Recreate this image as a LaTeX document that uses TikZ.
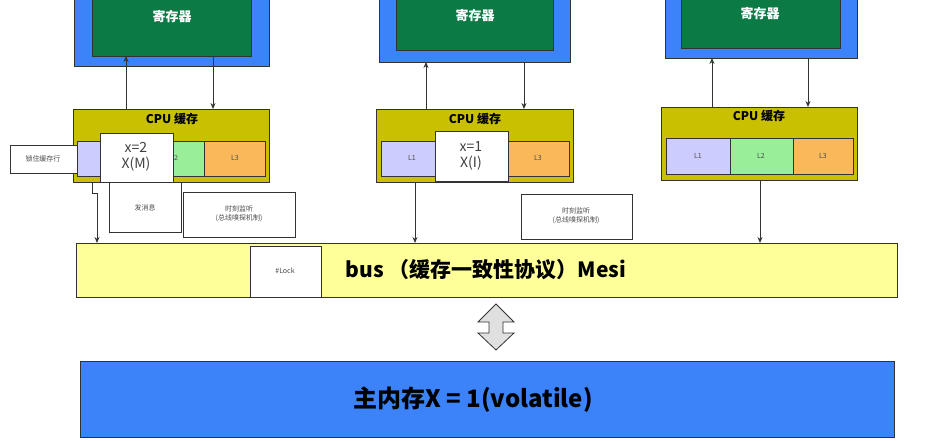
\documentclass[tikz,border=0pt]{standalone}
\usepackage{fontspec}
\usetikzlibrary{arrows.meta}
\setmainfont{Noto Sans CJK SC}
\definecolor{cblue}{HTML}{3C82F8}
\definecolor{cgreen}{HTML}{0B7A45}
\definecolor{colive}{HTML}{C8C000}
\definecolor{cl1}{HTML}{CCCCFF}
\definecolor{cl2}{HTML}{99EE99}
\definecolor{cl3}{HTML}{F9B95A}
\definecolor{cbus}{HTML}{FFFF99}
\definecolor{cline}{HTML}{333333}
\begin{document}
\begin{tikzpicture}[x=1pt,y=-1pt,
  box/.style={draw=cline,line width=0.8pt,inner sep=0pt},
  arr/.style={draw=cline,line width=0.8pt,-{Stealth[length=6pt,width=5pt]}},
  small/.style={font=\fontsize{7}{9}\selectfont,text=black!70},
  reg/.style={font=\bfseries\fontsize{13}{15}\selectfont,text=white},
  ctitle/.style={font=\bfseries\fontsize{12}{14}\selectfont},
  xv/.style={font=\fontsize{14}{16}\selectfont,text=black!75,align=center},
  big/.style={font=\bfseries\fontsize{21}{24}\selectfont}]
\useasboundingbox (0,0) rectangle (930,441);
% CPU1
\path[box,fill=cblue] (74,-2) rectangle (269,66);
\path[box,fill=cgreen] (92,-2) rectangle (251,56);
\node[reg] (r1) at (172,17) {寄存器};
\path[box,fill=colive] (73,109) rectangle (269,182);
\node[ctitle] (c1) at (172,119) {CPU 缓存};
\path[box,fill=cl1] (77,141) rectangle (100,176);
\path[box,fill=cl2] (173,141) rectangle (204,176);
\node[small] at (176,158) {2};
\path[box,fill=cl3] (204,141) rectangle (265,176);
\node[small] at (235,158) {L3};
\path[box,fill=white] (100,133) rectangle (173,182);
\node[xv] (x1) at (136,157) {x=2\\X(M)};
\path[box,fill=white] (10,145) rectangle (77,173);
\node[small] (lk) at (43,159) {锁住缓存行};
\path[box,fill=white] (109,182) rectangle (181,232);
\node[small] (msg) at (145,208) {发消息};
\path[box,fill=white] (183,192) rectangle (295,237);
\node[small,align=center] (sn1) at (239,214) {时刻监听\\(总线嗅探机制)};
\draw[arr] (126,109) -- (126,56);
\draw[arr] (213,56) -- (213,109);
% CPU2
\path[box,fill=cblue] (379,-2) rectangle (570,62);
\path[box,fill=cgreen] (396,-2) rectangle (553,50);
\node[reg] (r2) at (475,16) {寄存器};
\path[box,fill=colive] (376,109) rectangle (573,182);
\node[ctitle] (c2) at (475,119) {CPU 缓存};
\path[box,fill=cl1] (381,141) rectangle (436,176);
\node[small] at (412,158) {L1};
\path[box,fill=cl3] (508,141) rectangle (569,176);
\node[small] at (538,158) {L3};
\path[box,fill=white] (435,131) rectangle (508,181);
\node[xv] (x2) at (471,156) {x=1\\X(I)};
\path[box,fill=white] (521,194) rectangle (632,239);
\node[small,align=center] (sn2) at (576,216) {时刻监听\\(总线嗅探机制)};
\draw[arr] (426,109) -- (426,62);
\draw[arr] (524,62) -- (524,109);
% CPU3
\path[box,fill=cblue] (665,-2) rectangle (857,58);
\path[box,fill=cgreen] (681,-2) rectangle (840,48);
\node[reg] (r3) at (760,14) {寄存器};
\path[box,fill=colive] (661,107) rectangle (857,180);
\node[ctitle] (c3) at (759,116) {CPU 缓存};
\path[box,fill=cl1] (666,138) rectangle (730,174);
\node[small] at (698,156) {L1};
\path[box,fill=cl2] (730,138) rectangle (793,174);
\node[small] at (761,156) {L2};
\path[box,fill=cl3] (793,138) rectangle (853,174);
\node[small] at (823,156) {L3};
\draw[arr] (712,107) -- (712,58);
\draw[arr] (808,58) -- (808,107);
% bus
\path[box,fill=cbus] (76,243) rectangle (897,297);
\path[box,fill=white] (250,246) rectangle (321,297);
\node[small] (lock) at (285,271) {\#Lock};
\node[big] (bus) at (486,270) {bus （缓存一致性协议）Mesi};
\draw[arr] (92,182) -- (92,193) -- (97,193) -- (97,243);
\draw[arr] (415,182) -- (415,243);
\draw[arr] (760,180) -- (760,243);
% double arrow
\path[draw=cline,line width=0.8pt,fill=black!12] (496,304) -- (514,322) -- (503,322) -- (503,333) -- (514,333) -- (496,350) -- (478,333) -- (489,333) -- (489,322) -- (478,322) -- cycle;
% memory
\path[box,fill=cblue] (80,361) rectangle (894,437);
\node[big,font=\bfseries\fontsize{24}{27}\selectfont] (mem) at (473,400) {主内存X = 1(volatile)};
\end{tikzpicture}
\end{document}
